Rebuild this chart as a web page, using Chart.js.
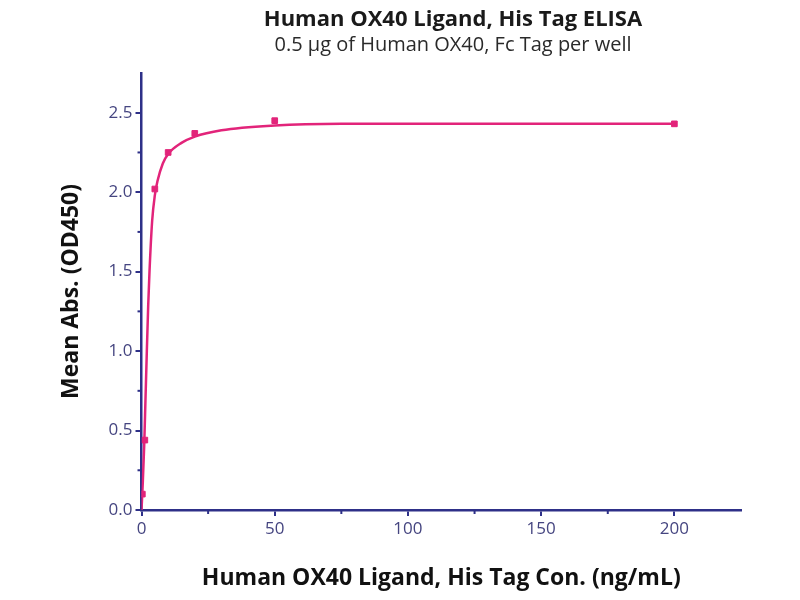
<!DOCTYPE html>
<html>
<head>
<meta charset="utf-8">
<script src="https://cdn.jsdelivr.net/npm/chart.js@4.4.0/dist/chart.umd.min.js"></script>
<style>
  body { margin: 0; background: #fff; }
</style>
</head>
<body>
<canvas id="elisa" width="800" height="600"></canvas>
<script>
// measured points (ng/mL -> OD450)
const conc = [0.31, 1.25, 5, 10, 20, 50, 200];
const od = [0.10, 0.44, 2.02, 2.25, 2.37, 2.45, 2.43];

// fitted curve
const fitX = [0, 0.5, 1, 1.5, 2, 2.5, 3, 4, 5, 6, 8, 10, 15, 20, 30, 50, 75, 100, 150, 200];
const fitY = [0.0, 0.18, 0.40, 0.70, 1.00, 1.28, 1.50, 1.82, 1.98, 2.07, 2.18, 2.24, 2.31, 2.35, 2.39, 2.42, 2.43, 2.43, 2.43, 2.43];

const xTicks = [0, 50, 100, 150, 200];
const yTicks = [0.0, 0.5, 1.0, 1.5, 2.0, 2.5];

const titleText = "Human OX40 Ligand, His Tag ELISA";
const subtitleText = "0.5 \u00b5g of Human OX40, Fc Tag per well";

const axisColor = "#2e3088";
const pink = "#e2247a";
const fontName = "'Open Sans'";

// title block centred over the plot, plus the small minor ticks
const decorations = {
    id: "decorations",
    afterDraw(chart) {
        const ctx = chart.ctx;
        const xs = chart.scales.x;
        const ys = chart.scales.y;
        ctx.save();
        ctx.textAlign = "center";
        ctx.textBaseline = "middle";
        ctx.fillStyle = "#1a1a1a";
        ctx.font = "bold 22px " + fontName;
        ctx.fillText(titleText, 453, 20);
        ctx.fillStyle = "#2a2a2a";
        ctx.font = "20px " + fontName;
        ctx.fillText(subtitleText, 453, 45);

        ctx.strokeStyle = axisColor;
        ctx.lineWidth = 2;
        for (let v = 25; v < 225; v += 50) {
            const px = xs.getPixelForValue(v);
            ctx.beginPath();
            ctx.moveTo(px, ys.bottom);
            ctx.lineTo(px, ys.bottom + 4);
            ctx.stroke();
        }
        for (let v = 0.25; v < 2.75; v += 0.5) {
            const py = ys.getPixelForValue(v);
            ctx.beginPath();
            ctx.moveTo(xs.left, py);
            ctx.lineTo(xs.left - 4, py);
            ctx.stroke();
        }
        ctx.restore();
    }
};

const ctx = document.getElementById("elisa").getContext("2d");
const elisaChart = new Chart(ctx, {
    type: "scatter",
    data: {
        datasets: [
            {
                label: "fit",
                data: fitX.map((x, i) => ({ x: x, y: fitY[i] })),
                showLine: true,
                borderColor: pink,
                borderWidth: 2.5,
                pointRadius: 0,
                cubicInterpolationMode: "monotone",
            },
            {
                label: "mean",
                data: conc.map((x, i) => ({ x: x, y: od[i] })),
                pointStyle: "rect",
                pointRadius: 4,
                backgroundColor: pink,
                borderColor: pink,
            },
        ],
    },
    options: {
        responsive: false,
        animation: false,
        layout: { padding: { left: 54, right: 59, top: 73, bottom: 4 } },
        plugins: {
            legend: { display: false },
            tooltip: { enabled: false },
        },
        scales: {
            x: {
                type: "linear",
                min: 0,
                max: 225,
                afterBuildTicks: (scale) => {
                    scale.ticks = xTicks.map((v) => ({ value: v }));
                },
                border: { color: axisColor, width: 2.5 },
                grid: { drawOnChartArea: false, color: axisColor, tickLength: 6, lineWidth: 2 },
                ticks: { color: "#454580", font: { family: "Open Sans", size: 17 }, padding: 3 },
                title: {
                    display: true,
                    text: "Human OX40 Ligand, His Tag Con. (ng/mL)",
                    color: "#111",
                    font: { family: "Open Sans", size: 23, weight: "bold" },
                    padding: { top: 22 },
                },
            },
            y: {
                type: "linear",
                min: 0,
                max: 2.75,
                afterBuildTicks: (scale) => {
                    scale.ticks = yTicks.map((v) => ({ value: v }));
                },
                border: { color: axisColor, width: 2.5 },
                grid: { drawOnChartArea: false, color: axisColor, tickLength: 6, lineWidth: 2 },
                ticks: {
                    color: "#454580",
                    font: { family: "Open Sans", size: 17 },
                    padding: 3,
                    callback: (v) => Number(v).toFixed(1),
                },
                title: {
                    display: true,
                    text: "Mean Abs. (OD450)",
                    color: "#111",
                    font: { family: "Open Sans", size: 23, weight: "bold" },
                    padding: { bottom: 20 },
                },
            },
        },
    },
    plugins: [decorations],
});
</script>
</body>
</html>
